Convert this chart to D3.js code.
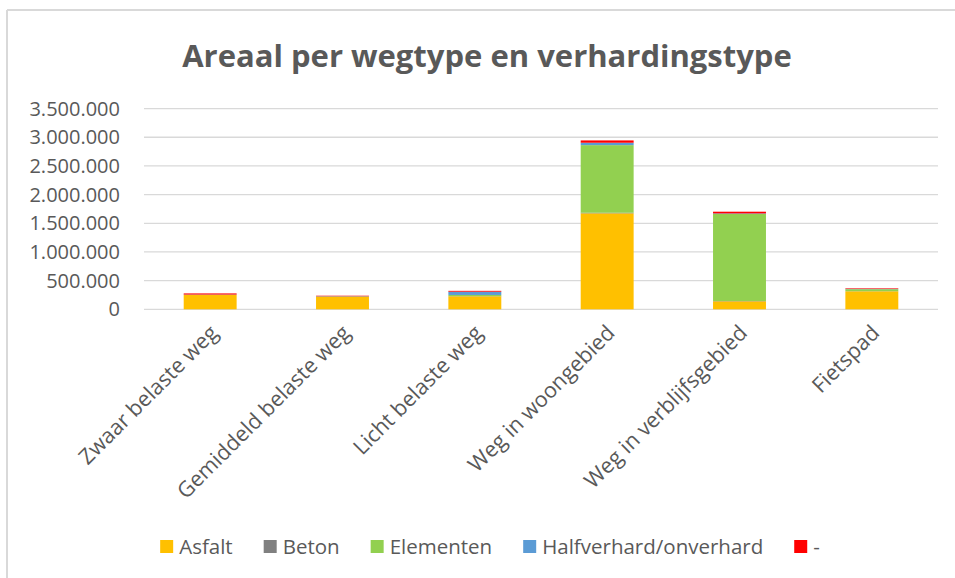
<!DOCTYPE html>
<html>
<head>
<meta charset="utf-8">
<script src="https://cdn.jsdelivr.net/npm/d3@7"></script>
<style>
  body { margin: 0; background: #fff; }
  text { font-family: "Open Sans", sans-serif; fill: #595959; }
</style>
</head>
<body>
<div id="chart"></div>
<script>
// data
var categories = ["Zwaar belaste weg", "Gemiddeld belaste weg", "Licht belaste weg",
  "Weg in woongebied", "Weg in verblijfsgebied", "Fietspad"];
var seriesNames = ["Asfalt", "Beton", "Elementen", "Halfverhard/onverhard", "-"];
var asfalt = [250000, 215000, 227000, 1674000, 140000, 314000];
var beton = [2000, 2000, 3000, 10000, 5000, 2000];
var elementen = [3000, 8000, 20000, 1179000, 1517000, 35000];
var halfverhard = [2000, 2000, 57000, 42000, 10000, 5000];
var overig = [20000, 10000, 15000, 40000, 30000, 10000];
var yTicks = [0, 500000, 1000000, 1500000, 2000000, 2500000, 3000000, 3500000];

var colors = ["#FFC000", "#808080", "#92D050", "#5B9BD5", "#FF0000"];

var svgWidth = 955;
var svgHeight = 578;
var margin = { top: 108.6, right: 17, bottom: 268.7, left: 144 };
var width = svgWidth - margin.left - margin.right;
var height = svgHeight - margin.top - margin.bottom;

var svg = d3.select("#chart")
  .append("svg")
  .attr("width", svgWidth)
  .attr("height", svgHeight);

// outer frame (only top and left edges are visible in the picture)
svg.append("line").attr("x1", 7).attr("x2", svgWidth).attr("y1", 10).attr("y2", 10)
  .attr("stroke", "#d9d9d9").attr("stroke-width", 2);
svg.append("line").attr("x1", 7).attr("x2", 7).attr("y1", 10).attr("y2", svgHeight)
  .attr("stroke", "#d9d9d9").attr("stroke-width", 2);

// title
svg.append("text")
  .attr("x", 487)
  .attr("y", 67)
  .attr("text-anchor", "middle")
  .attr("font-size", 31)
  .attr("font-weight", "bold")
  .text("Areaal per wegtype en verhardingstype");

var chartGroup = svg.append("g")
  .attr("transform", `translate(${margin.left}, ${margin.top})`);

// build rows for the stack
var table = categories.map(function(c, i) {
  return {
    cat: c,
    "Asfalt": asfalt[i],
    "Beton": beton[i],
    "Elementen": elementen[i],
    "Halfverhard/onverhard": halfverhard[i],
    "-": overig[i]
  };
});
var stacked = d3.stack().keys(seriesNames)(table);

var xScale = d3.scaleBand()
  .domain(categories)
  .range([0, width])
  .padding(0);

var yScale = d3.scaleLinear()
  .domain([0, 3500000])
  .range([height, 0]);

var fmt = function(d) { return d3.format(",")(d).replace(/,/g, "."); };

// gridlines
chartGroup.append("g")
  .selectAll("line")
  .data(yTicks)
  .enter()
  .append("line")
  .attr("x1", 0)
  .attr("x2", width)
  .attr("y1", d => yScale(d))
  .attr("y2", d => yScale(d))
  .attr("stroke", "#d9d9d9")
  .attr("stroke-width", 1.3);

// y axis labels
var leftAxis = d3.axisLeft(yScale).tickValues(yTicks).tickFormat(fmt).tickSize(0).tickPadding(24);
var yAxisG = chartGroup.append("g").call(leftAxis);
yAxisG.select(".domain").remove();
yAxisG.selectAll("text")
  .attr("font-size", 20)
  .attr("fill", "#595959")
  .style("font-family", "\"Open Sans\", sans-serif");

// bars
var barW = xScale.bandwidth() * 0.4;
chartGroup.selectAll(".serie")
  .data(stacked)
  .enter()
  .append("g")
  .attr("class", "serie")
  .attr("fill", (d, i) => colors[i])
  .selectAll("rect")
  .data(d => d)
  .enter()
  .append("rect")
  .attr("x", d => xScale(d.data.cat) + (xScale.bandwidth() - barW) / 2)
  .attr("y", d => yScale(d[1]))
  .attr("width", barW)
  .attr("height", d => yScale(d[0]) - yScale(d[1]));

// x axis labels, rotated
var bottomAxis = d3.axisBottom(xScale).tickSize(0).tickPadding(0);
var xAxisG = chartGroup.append("g")
  .attr("transform", `translate(0, ${height})`)
  .call(bottomAxis);
xAxisG.select(".domain").remove();
xAxisG.selectAll("text")
  .attr("font-size", 21.5)
  .attr("fill", "#595959")
  .style("font-family", "\"Open Sans\", sans-serif")
  .attr("text-anchor", "end")
  .attr("dy", 0)
  .attr("transform", "translate(9, 25) rotate(-45)");

// legend
var legend = svg.append("g").attr("transform", "translate(0, 547)");
var items = legend.selectAll(".item")
  .data(seriesNames)
  .enter()
  .append("g")
  .attr("class", "item");
items.append("rect")
  .attr("y", -7)
  .attr("width", 13)
  .attr("height", 13)
  .attr("fill", (d, i) => colors[i]);
items.append("text")
  .attr("x", 19)
  .attr("y", 0)
  .attr("dy", "0.35em")
  .attr("font-size", 20.5)
  .text(d => d);

var gap = 31;
var widths = [];
items.each(function() { widths.push(this.getBBox().width); });
var total = d3.sum(widths) + gap * (widths.length - 1);
var pos = 490 - total / 2;
items.attr("transform", function(d, i) {
  var x = pos;
  pos += widths[i] + gap;
  return `translate(${x}, 0)`;
});
</script>
</body>
</html>
